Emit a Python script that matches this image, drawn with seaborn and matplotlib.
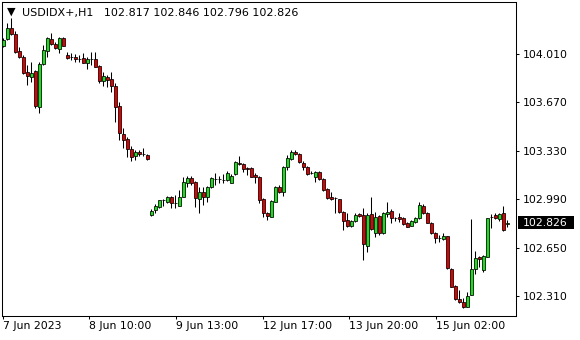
import numpy as np
import pandas as pd
import seaborn as sns
import matplotlib.pyplot as plt
from matplotlib.transforms import blended_transform_factory
from matplotlib.patches import Rectangle

# hourly OHLC bars
opens = [104.066, 104.115, 104.192, 104.150, 104.031, 103.989, 103.884, 103.849, 103.891, 103.638,
         103.940, 104.031, 104.115, 104.080, 104.045, 104.122, 104.003, 103.989, 103.989, 103.975,
         103.982, 103.947, 103.975, 103.975, 103.926, 103.820, 103.849, 103.835, 103.786, 103.645,
         103.449, 103.413, 103.343, 103.294, 103.322, 103.308, 103.301, 102.879, 102.914, 102.935,
         102.984, 102.970, 103.007, 102.963, 102.942, 103.007, 103.105, 103.140, 103.112, 102.991,
         103.042, 103.007, 103.077, 103.133, 103.133, 103.126, 103.126, 103.105, 103.168, 103.245,
         103.238, 103.210, 103.210, 103.161, 103.147, 102.991, 102.893, 102.865, 102.970, 103.077,
         103.042, 103.217, 103.272, 103.322, 103.308, 103.245, 103.217, 103.175, 103.147, 103.182,
         103.133, 103.063, 103.007, 102.998, 102.991, 102.900, 102.844, 102.801, 102.837, 102.886,
         102.879, 102.661, 102.886, 102.752, 102.872, 102.752, 102.886, 102.907, 102.858, 102.865,
         102.858, 102.822, 102.801, 102.829, 102.858, 102.942, 102.893, 102.822, 102.752, 102.717,
         102.710, 102.731, 102.499, 102.380, 102.289, 102.267, 102.232, 102.317, 102.499, 102.584,
         102.492, 102.584, 102.865, 102.879, 102.851, 102.893, 102.817]
highs = [104.122, 104.227, 104.263, 104.171, 104.059, 104.003, 103.933, 103.954, 103.895, 103.954,
         104.073, 104.129, 104.157, 104.094, 104.129, 104.129, 104.024, 104.017, 104.010, 104.003,
         104.017, 103.989, 104.024, 104.024, 103.933, 103.884, 103.863, 103.884, 103.806, 103.673,
         103.491, 103.428, 103.364, 103.336, 103.336, 103.350, 103.308, 102.921, 102.956, 102.987,
         102.991, 103.010, 103.010, 103.021, 103.056, 103.147, 103.154, 103.154, 103.115, 103.077,
         103.077, 103.080, 103.147, 103.175, 103.154, 103.168, 103.189, 103.168, 103.255, 103.294,
         103.245, 103.217, 103.217, 103.175, 103.150, 102.998, 102.900, 102.984, 103.080, 103.091,
         103.220, 103.301, 103.336, 103.336, 103.315, 103.259, 103.224, 103.189, 103.189, 103.189,
         103.140, 103.070, 103.042, 103.007, 102.994, 102.907, 102.893, 102.844, 102.893, 102.893,
         102.928, 102.893, 103.007, 102.900, 102.879, 102.900, 102.970, 102.921, 102.865, 102.893,
         102.865, 102.829, 102.844, 102.865, 102.970, 102.956, 102.900, 102.829, 102.759, 102.738,
         102.752, 102.733, 102.506, 102.387, 102.352, 102.296, 102.338, 102.851, 102.626, 102.591,
         102.598, 102.861, 102.886, 102.893, 102.893, 102.942, 102.846]
lows = [104.059, 104.108, 104.143, 104.020, 103.982, 103.870, 103.792, 103.813, 103.631, 103.596,
        103.933, 103.989, 104.073, 104.045, 104.017, 104.063, 103.975, 103.968, 103.954, 103.954,
        103.945, 103.905, 103.933, 103.916, 103.806, 103.786, 103.779, 103.744, 103.533, 103.406,
        103.350, 103.287, 103.259, 103.266, 103.294, 103.294, 103.266, 102.872, 102.893, 102.928,
        102.942, 102.963, 102.928, 102.928, 102.940, 103.005, 103.077, 103.091, 102.935, 102.893,
        102.949, 102.970, 103.070, 103.091, 103.105, 103.105, 103.119, 103.103, 103.161, 103.231,
        103.182, 103.161, 103.144, 103.105, 102.963, 102.865, 102.844, 102.863, 102.968, 103.035,
        103.014, 103.196, 103.266, 103.301, 103.245, 103.196, 103.161, 103.168, 103.112, 103.126,
        103.049, 102.991, 102.984, 102.893, 102.893, 102.773, 102.798, 102.794, 102.829, 102.865,
        102.563, 102.619, 102.773, 102.724, 102.738, 102.745, 102.865, 102.822, 102.837, 102.829,
        102.808, 102.792, 102.799, 102.822, 102.851, 102.886, 102.820, 102.745, 102.682, 102.689,
        102.703, 102.503, 102.371, 102.282, 102.260, 102.225, 102.230, 102.315, 102.464, 102.513,
        102.478, 102.582, 102.787, 102.851, 102.837, 102.766, 102.796]
closes = [104.108, 104.192, 104.150, 104.024, 103.989, 103.877, 103.856, 103.877, 103.645, 103.940,
          104.038, 104.122, 104.080, 104.052, 104.122, 104.066, 103.982, 103.987, 103.975, 103.974,
          103.947, 103.975, 103.976, 103.919, 103.820, 103.856, 103.828, 103.786, 103.638, 103.456,
          103.406, 103.343, 103.287, 103.322, 103.308, 103.307, 103.272, 102.907, 102.942, 102.984,
          102.983, 103.007, 102.963, 102.962, 103.007, 103.112, 103.140, 103.105, 102.998, 103.042,
          103.007, 103.077, 103.140, 103.132, 103.134, 103.125, 103.175, 103.154, 103.252, 103.238,
          103.203, 103.203, 103.147, 103.147, 102.984, 102.893, 102.872, 102.977, 103.077, 103.042,
          103.217, 103.279, 103.322, 103.308, 103.252, 103.217, 103.168, 103.174, 103.182, 103.133,
          103.056, 102.998, 102.991, 102.997, 102.900, 102.837, 102.801, 102.837, 102.879, 102.872,
          102.675, 102.879, 102.780, 102.865, 102.752, 102.893, 102.900, 102.858, 102.857, 102.851,
          102.815, 102.794, 102.837, 102.858, 102.949, 102.893, 102.822, 102.752, 102.717, 102.716,
          102.731, 102.506, 102.373, 102.289, 102.267, 102.232, 102.310, 102.499, 102.577, 102.570,
          102.591, 102.858, 102.864, 102.858, 102.886, 102.773, 102.826]

symbol = "USDIDX+,H1"
time_labels = ["7 Jun 2023", "8 Jun 10:00", "9 Jun 13:00", "12 Jun 17:00", "13 Jun 20:00", "15 Jun 02:00"]
time_label_bars = [-0.15, 21.5, 43.2, 64.85, 86.5, 108.2]
price_ticks = [102.310, 102.650, 102.990, 103.330, 103.670, 104.010]

df = pd.DataFrame({"open": opens, "high": highs, "low": lows, "close": closes})
df["bar"] = np.arange(len(df))
df["up"] = df["close"] >= df["open"]
last = df.iloc[-1]

sns.set_style("white")
plt.rcParams["font.family"] = ["DejaVu Sans"]
plt.rcParams["font.size"] = 7.8

fig = plt.figure(figsize=(5.8, 3.4), dpi=100)
ax = fig.add_axes([2 / 580, 24 / 340, 514 / 580, 314 / 340])

# wicks, then bodies on top
ax.vlines(df["bar"], df["low"], df["high"], color="black", linewidth=0.75, zorder=2)
ax.bar(df["bar"], (df["close"] - df["open"]).abs(),
       bottom=df[["open", "close"]].min(axis=1), width=0.64,
       color=np.where(df["up"], "#18e018", "#e00000"),
       edgecolor="black", linewidth=0.55, zorder=3)

ax.set_xlim(-0.325, 128.175)
ax.set_ylim(102.1695, 104.3753)

for s in ax.spines.values():
    s.set_visible(True)
    s.set_color("black")
    s.set_linewidth(0.75)

ax.yaxis.tick_right()
ax.set_yticks(price_ticks)
ax.set_yticklabels([f"{v:.3f}" for v in price_ticks])
ax.tick_params(axis="y", direction="out", length=2.2, width=0.75, pad=2.5,
               colors="black", left=False, right=True)

ax.set_xticks(time_label_bars)
ax.set_xticklabels(time_labels, ha="left")
ax.tick_params(axis="x", direction="out", length=2.2, width=0.75, pad=1.5,
               colors="black", bottom=True)

# current price tag on the price axis
tr = blended_transform_factory(ax.transAxes, ax.transData)
half = 6.5 * (104.3753 - 102.1695) / 314
ax.add_patch(Rectangle((1.0039, last["close"] - half), 0.109, 2 * half,
                       transform=tr, facecolor="black", edgecolor="none",
                       clip_on=False, zorder=5))
ax.text(1.0136, last["close"], f"{last['close']:.3f}", transform=tr, color="white",
        va="center", ha="left", zorder=6, clip_on=False)

# header line
ax.text(0.0175, 0.968, "\u25bc", transform=ax.transAxes, fontsize=8,
        va="center", ha="center", color="black")
ax.text(0.0389, 0.966,
        f"{symbol}   {last['open']:.3f} {last['high']:.3f} {last['low']:.3f} {last['close']:.3f}",
        transform=ax.transAxes, va="center", ha="left", color="black", fontsize=8)

fig.savefig("out.png", dpi=100)
